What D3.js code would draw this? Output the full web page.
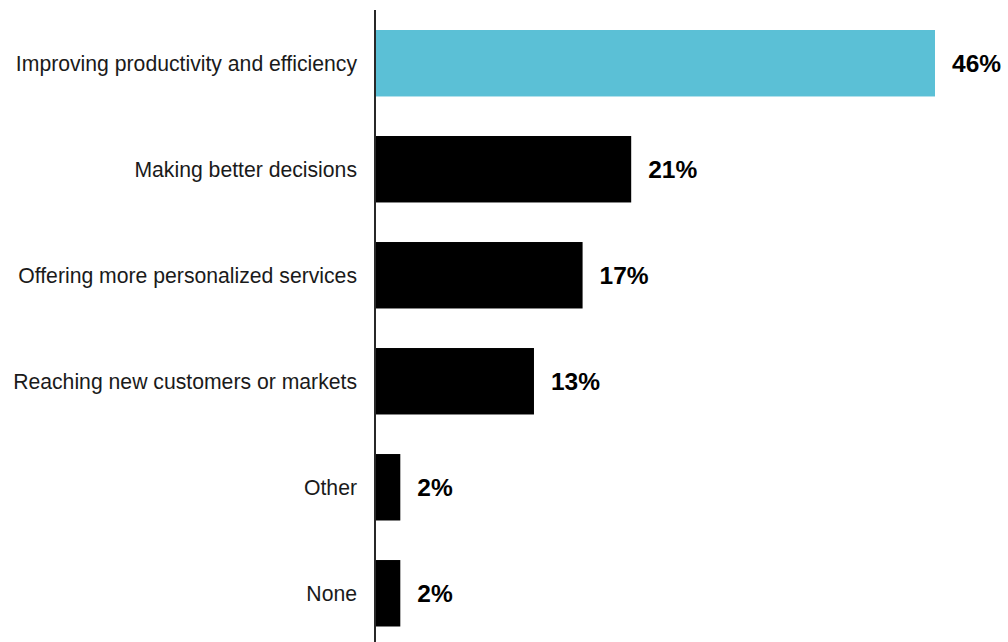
<!DOCTYPE html>
<html>
<head>
<meta charset="utf-8">
<script src="https://cdn.jsdelivr.net/npm/d3@7"></script>
<style>
  html, body { margin: 0; padding: 0; background: #fff; }
  svg { display: block; }
</style>
</head>
<body>
<svg id="chart" width="1008" height="642"></svg>
<script>
// Benefits of AI adoption, share of respondents (%)
const categories = [
  "Improving productivity and efficiency",
  "Making better decisions",
  "Offering more personalized services",
  "Reaching new customers or markets",
  "Other",
  "None"
];
const values = [46, 21, 17, 13, 2, 2];
const valueLabels = ["46%", "21%", "17%", "13%", "2%", "2%"];
const highlightIndex = 0;

const width = 1008, height = 642;
const axisX = 375;

const svg = d3.select("#chart");

const x = d3.scaleLinear()
  .domain([0, 46])
  .range([axisX + 1, 935]);

const y = d3.scaleBand()
  .domain(categories)
  .range([8.8, 647.7])
  .paddingInner(0.373)
  .paddingOuter(0.2);

// bars
svg.append("g")
  .selectAll("rect")
  .data(categories)
  .join("rect")
  .attr("x", x(0))
  .attr("y", d => y(d))
  .attr("width", (d, i) => x(values[i]) - x(0))
  .attr("height", y.bandwidth())
  .attr("fill", (d, i) => i === highlightIndex ? "#5bc0d6" : "#000000");

// category axis (left), labels right-aligned against the baseline
const yAxis = d3.axisLeft(y).tickSize(0).tickPadding(18);
const gy = svg.append("g")
  .attr("transform", `translate(${axisX},0)`)
  .call(yAxis);
gy.select(".domain").remove();
gy.selectAll("text")
  .attr("font-family", "Liberation Sans, Arial, sans-serif")
  .attr("font-size", 21.2)
  .attr("dy", "0.36em")
  .attr("fill", "#1a1a1a");

// baseline
svg.append("line")
  .attr("x1", axisX).attr("x2", axisX)
  .attr("y1", 10).attr("y2", height)
  .attr("stroke", "#111")
  .attr("stroke-width", 1.8);

// value labels
svg.append("g")
  .selectAll("text")
  .data(categories)
  .join("text")
  .attr("x", (d, i) => x(values[i]) + 17)
  .attr("y", d => y(d) + y.bandwidth() / 2)
  .attr("dy", "0.36em")
  .attr("font-family", "Liberation Sans, Arial, sans-serif")
  .attr("font-weight", "bold")
  .attr("font-size", 24.5)
  .attr("fill", "#000")
  .text((d, i) => valueLabels[i]);
</script>
</body>
</html>
